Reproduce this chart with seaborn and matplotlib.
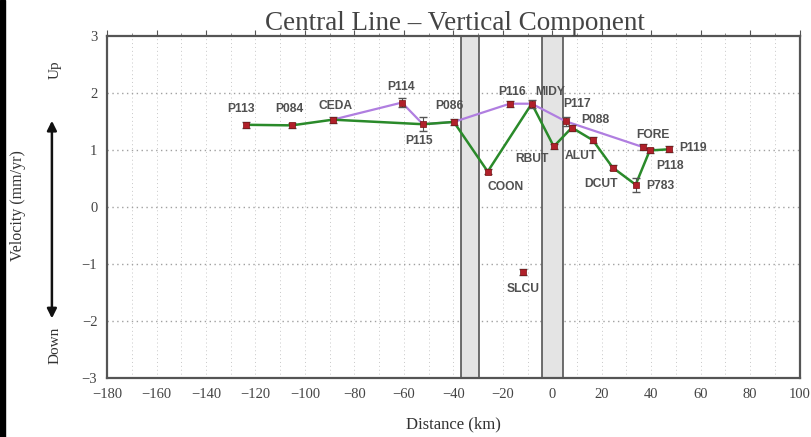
import matplotlib
matplotlib.use("Agg")
import matplotlib.pyplot as plt
import seaborn as sns
import pandas as pd
import numpy as np
from matplotlib.ticker import MultipleLocator

# ---- data ----
stations = ["P113", "P084", "CEDA", "P114", "P115", "P086", "COON", "P116", "MIDY",
            "SLCU", "RBUT", "P117", "P088", "ALUT", "DCUT", "P783", "FORE", "P118", "P119"]
distance = [-123.8, -105.3, -88.7, -60.8, -52.3, -39.8, -26.1, -17.2, -8.3,
            -11.9, 0.6, 5.5, 7.9, 16.4, 24.4, 33.7, 36.6, 39.4, 47.1]
velocity = [1.44, 1.43, 1.53, 1.83, 1.45, 1.49, 0.62, 1.81, 1.81,
            -1.14, 1.06, 1.50, 1.39, 1.17, 0.69, 0.39, 1.05, 0.99, 1.01]
error = [0.05, 0.05, 0.05, 0.08, 0.12, 0.05, 0.05, 0.05, 0.07,
         0.05, 0.05, 0.08, 0.05, 0.05, 0.05, 0.12, 0.05, 0.05, 0.05]
green_path = ["P113", "P084", "CEDA", "P115", "P086", "COON", "MIDY", "RBUT", "P088",
              "ALUT", "DCUT", "P783", "P118", "P119"]
purple_path = ["CEDA", "P114", "P115", "P086", "P116", "MIDY", "P117", "FORE", "P118"]
bands = [(-37.0, -29.5), (-4.0, 4.5)]
x_ticks = list(range(-180, 101, 20))
y_ticks = [-3, -2, -1, 0, 1, 2, 3]

df = pd.DataFrame({"station": stations, "distance": distance,
                   "velocity": velocity, "error": error})
idx = df.set_index("station")
green_df = idx.loc[green_path].reset_index()
purple_df = idx.loc[purple_path].reset_index()

# label offsets in pixels (dx, dy upward positive)
label_off = {
    "P113": (-5, 16), "P084": (-2, 16), "CEDA": (3, 14), "P114": (-1, 16),
    "P115": (-4, -17), "P086": (-4, 16), "COON": (18, -15), "P116": (2, 12),
    "MIDY": (18, 12), "SLCU": (0, -17), "RBUT": (-22, -13), "P117": (11, 17),
    "P088": (24, 8), "ALUT": (-12, -16), "DCUT": (-12, -16), "P783": (25, -1),
    "FORE": (10, 12), "P118": (20, -16), "P119": (24, 1),
}

sns.set_theme(style="white")
plt.rcParams["font.family"] = ["Liberation Serif", "DejaVu Serif"]

fig = plt.figure(figsize=(8.11, 4.37), dpi=100)
ax = fig.add_axes([0.132, 0.135, 0.854, 0.783])

for x0, x1 in bands:
    ax.axvspan(x0, x1, facecolor="#e4e4e4", edgecolor="#555555", linewidth=1.2, zorder=1)

sns.lineplot(data=purple_df, x="distance", y="velocity", sort=False, ax=ax,
             color="#b07ee0", linewidth=1.6, zorder=3, estimator=None)
sns.lineplot(data=green_df, x="distance", y="velocity", sort=False, ax=ax,
             color="#2a8a2a", linewidth=1.8, zorder=4, estimator=None)
ax.errorbar(df["distance"], df["velocity"], yerr=df["error"], fmt="none",
            ecolor="#555555", elinewidth=0.8, capsize=3, zorder=5)
sns.scatterplot(data=df, x="distance", y="velocity", ax=ax, marker="s", s=22,
                color="#b0202a", edgecolor="#7a1010", linewidth=0.5, zorder=6)

for s, x, y in zip(stations, distance, velocity):
    dx, dy = label_off[s]
    ax.annotate(s, (x, y), xytext=(dx, dy), textcoords="offset pixels",
                ha="center", va="center", fontsize=8.7, fontweight="bold",
                color="#505050", family=["Liberation Sans", "DejaVu Sans"], zorder=7)

ax.set_xlim(-180, 100)
ax.set_ylim(-3, 3)
ax.set_xticks(x_ticks)
ax.set_yticks(y_ticks)
ax.set_xticklabels([("\u2212" + str(-t)) if t < 0 else str(t) for t in x_ticks])
ax.set_yticklabels([("\u2212" + str(-t)) if t < 0 else str(t) for t in y_ticks])
ax.xaxis.set_minor_locator(MultipleLocator(10))
ax.yaxis.set_minor_locator(MultipleLocator(0.1))
ax.tick_params(axis="both", which="major", direction="out", length=4, width=0.8,
               colors="#555555", labelsize=10.5, labelcolor="#444444", pad=3)
ax.tick_params(axis="x", which="minor", direction="out", length=2.5, width=0.6,
               colors="#777777")
ax.tick_params(axis="y", which="minor", direction="in", length=2.5, width=0.6,
               colors="#888888")
ax.tick_params(top=True, which="both")

for xv in range(-170, 100, 10):
    ax.axvline(xv, color="#c8c8c8", linestyle=(0, (1, 3)), linewidth=0.7, zorder=0)
for yv in [-2, -1, 0, 1, 2]:
    ax.axhline(yv, color="#a0a0a0", linestyle=(0, (1, 2.5)), linewidth=1.0, zorder=0)

for sp in ax.spines.values():
    sp.set_color("#555555")
    sp.set_linewidth(1.6)
    sp.set_visible(True)

ax.set_xlabel("Distance (km)", fontsize=12, color="#333333", labelpad=11)
ax.set_ylabel("")
fig.text(0.561, 1 - 29.5 / 437, "Central Line \u2013 Vertical Component", ha="center",
         va="baseline", fontsize=19.5, color="#444444")

# y-axis annotation: label, arrow, Up/Down
fig.text(0.022, 0.53, "Velocity (mm/yr)", rotation=90, ha="center", va="center",
         fontsize=11.5, color="#333333")
fig.text(0.068, 0.84, "Up", rotation=90, ha="center", va="center", fontsize=11, color="#333333")
fig.text(0.068, 0.21, "Down", rotation=90, ha="center", va="center", fontsize=11, color="#333333")
fig.patches.append(matplotlib.patches.FancyArrowPatch(
    (0.064, 0.73), (0.064, 0.265), transform=fig.transFigure, arrowstyle="<|-|>",
    mutation_scale=14, color="#111111", linewidth=1.8))

# left black strip as in reference
fig.patches.append(matplotlib.patches.Rectangle((0, 0), 0.006, 1, transform=fig.transFigure,
                                                 color="black", zorder=10))

fig.savefig("out.png", dpi=100)
